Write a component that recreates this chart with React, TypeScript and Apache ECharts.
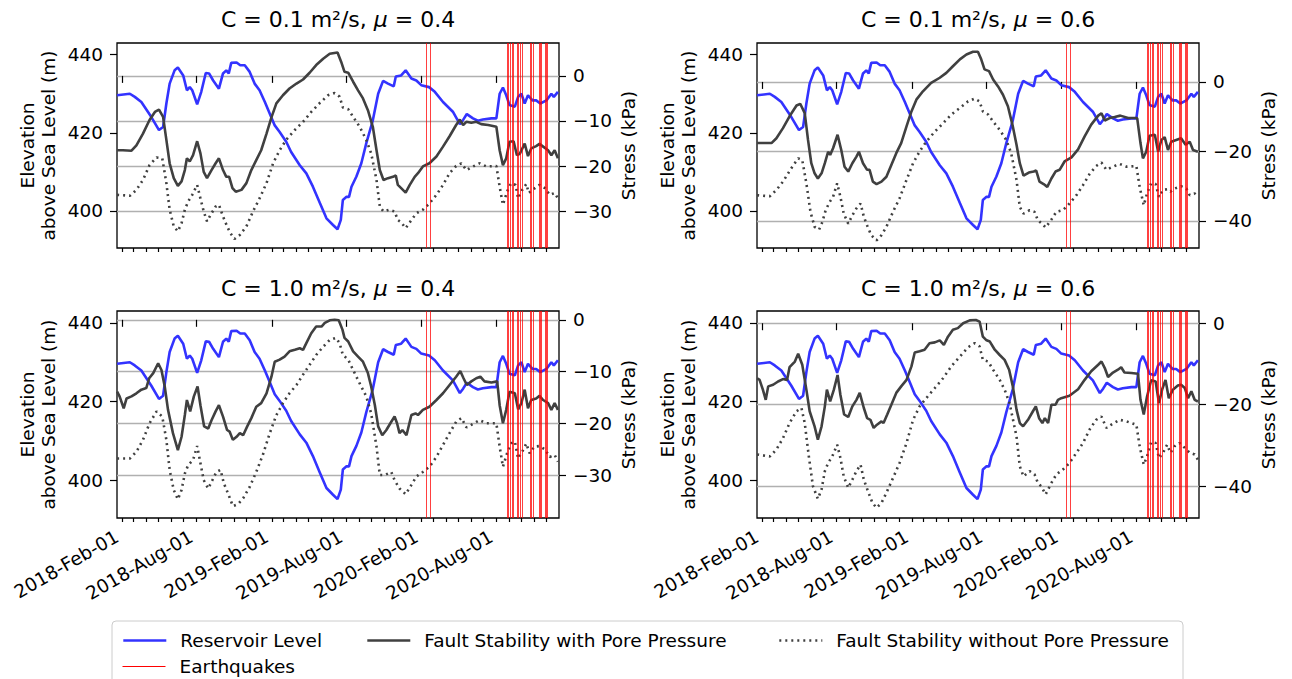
import React, { useEffect, useRef } from "react";
import * as echarts from "echarts";

const FONT = "DejaVu Sans";
const T0 = Date.UTC(2018, 1, 1); // series x values are days since 2018-02-01
const DAY_MS = 86400000;
const toTime = (day: number) => T0 + day * DAY_MS;
const parseDate = (s: string) => Date.parse(s + "T00:00:00Z");

const panelTitles = [
  "C = 0.1 m²/s, {i|μ} = 0.4",
  "C = 0.1 m²/s, {i|μ} = 0.6",
  "C = 1.0 m²/s, {i|μ} = 0.4",
  "C = 1.0 m²/s, {i|μ} = 0.6",
];

const xStartDay = -12.3;
const xEndDay = 1064.6;
const majorTickDates = ["2018-02-01", "2018-08-01", "2019-02-01", "2019-08-01", "2020-02-01", "2020-08-01"];
const elevationTicks = [400, 420, 440];
const elevationRange = [390.5, 443];
const stressMin = [-38.2, -47.8, -38.3, -47.8];
const stressMax = [7.3, 11.2, 1.7, 3.0];
const stressTicks = [
  [-30, -20, -10, 0],
  [-40, -20, 0],
  [-30, -20, -10, 0],
  [-40, -20, 0],
];

const earthquakeDates = [
  "2020-02-12", "2020-02-22", "2020-08-28", "2020-08-31", "2020-09-03", "2020-09-08", "2020-09-12",
  "2020-09-20", "2020-09-23", "2020-09-27", "2020-10-02", "2020-10-23", "2020-10-26", "2020-10-29",
  "2020-11-13", "2020-11-16", "2020-11-19", "2020-11-27", "2020-12-01", "2020-12-04",
];

// [day, elevation m]
const reservoirLevel = [
  [-12,429.6],[19,430.0],[31,429.2],[47,427.9],[71,424.1],[90,420.7],[100,421.5],[108,427.5],[116,432.6],[128,436.0],[136,436.7],[149,434.7],[158,430.9],[165,431.7],[171,430.9],[183,427.3],[193,430.5],[204,435.3],[212,435.2],[222,433.4],[236,431.3],[246,435.2],[254,436.0],[260,435.2],[266,437.9],[279,438.0],[288,437.3],[299,437.3],[311,435.6],[323,432.6],[335,430.9],[348,427.9],[360,424.9],[372,421.9],[384,420.2],[400,417.7],[412,415.1],[433,411.7],[449,409.6],[465,406.2],[482,402.0],[498,398.1],[514,396.4],[525,395.3],[533,397.7],[538,402.8],[547,403.6],[553,403.6],[559,406.2],[571,408.8],[583,412.2],[595,417.3],[611,423.2],[624,430.0],[636,433.3],[648,432.6],[662,431.9],[667,434.4],[680,434.7],[691,436.0],[705,433.9],[717,433.4],[729,432.2],[748,431.7],[762,430.5],[782,427.9],[806,425.4],[823,422.2],[831,423.3],[840,424.8],[855,423.7],[867,423.1],[879,423.4],[900,423.7],[912,423.7],[920,430.0],[928,431.6],[936,429.6],[944,427.1],[957,426.7],[965,429.2],[973,430.0],[981,427.5],[989,429.6],[1000,428.3],[1009,428.3],[1019,427.5],[1034,428.3],[1046,430.0],[1052,429.2],[1062,430.5],
];

// [day, stress kPa]
const withPore_C01_mu04 = [
  [-12,-16.5],[2,-16.5],[23,-16.6],[35,-15.4],[51,-12.8],[67,-9.8],[80,-8.0],[90,-7.5],[100,-9.1],[108,-14.2],[116,-19.4],[126,-22.7],[136,-24.4],[145,-23.4],[153,-20.9],[158,-18.3],[165,-19.0],[173,-17.6],[183,-14.5],[191,-17.2],[199,-21.3],[207,-22.7],[218,-20.9],[228,-19.4],[236,-18.3],[246,-20.9],[254,-22.4],[261,-22.4],[269,-24.9],[277,-25.7],[291,-25.3],[303,-23.8],[315,-20.9],[327,-18.7],[339,-16.5],[352,-12.8],[364,-9.2],[376,-6.1],[392,-4.3],[408,-2.8],[425,-1.7],[441,-0.8],[457,0.7],[473,2.4],[490,3.8],[506,4.9],[525,5.2],[534,3.1],[542,0.9],[551,0.7],[563,-1.3],[575,-3.2],[587,-5.0],[599,-7.6],[611,-11.3],[620,-16.5],[628,-20.9],[637,-23.1],[648,-22.7],[660,-22.4],[667,-22.1],[672,-24.2],[680,-24.9],[691,-25.9],[701,-24.2],[713,-22.4],[721,-21.6],[733,-20.1],[749,-19.4],[766,-17.9],[782,-15.7],[798,-13.4],[814,-10.9],[823,-9.7],[831,-10.9],[839,-10.2],[851,-10.4],[863,-10.2],[875,-10.7],[892,-10.9],[912,-11.3],[920,-16.5],[928,-19.8],[936,-18.3],[944,-14.6],[954,-14.5],[962,-17.6],[969,-17.3],[981,-15.0],[989,-17.8],[997,-16.1],[1009,-15.6],[1017,-15.1],[1026,-15.7],[1038,-16.5],[1046,-17.6],[1054,-16.5],[1062,-18.3],
];
const withoutPore_C01_mu04 = [
  [-12,-26.4],[19,-26.6],[35,-25.3],[51,-23.1],[67,-19.8],[84,-18.1],[98,-18.3],[108,-23.8],[116,-29.7],[126,-33.4],[136,-34.5],[145,-32.7],[153,-29.7],[161,-27.9],[171,-26.4],[183,-24.2],[191,-27.2],[199,-30.1],[207,-32.3],[218,-30.5],[228,-29.0],[236,-28.6],[246,-31.2],[256,-33.4],[264,-34.9],[274,-36.2],[287,-35.3],[303,-33.4],[319,-30.1],[335,-27.2],[352,-23.8],[368,-19.4],[384,-16.5],[400,-14.2],[421,-12.0],[441,-10.2],[461,-8.0],[482,-6.0],[502,-4.3],[518,-3.8],[530,-4.6],[538,-7.0],[551,-7.4],[563,-9.1],[579,-11.3],[595,-14.2],[607,-17.2],[620,-23.1],[628,-29.0],[637,-30.1],[652,-29.7],[664,-30.1],[672,-32.0],[680,-32.5],[691,-33.8],[705,-32.0],[717,-30.5],[733,-29.7],[749,-28.3],[766,-26.4],[782,-24.2],[798,-21.6],[814,-20.0],[827,-19.4],[839,-20.9],[851,-20.3],[871,-19.4],[888,-20.1],[912,-20.0],[920,-24.6],[928,-28.6],[938,-25.7],[948,-23.8],[959,-24.2],[965,-27.2],[975,-25.3],[985,-24.0],[991,-26.0],[1003,-25.1],[1017,-24.2],[1030,-24.9],[1042,-26.4],[1054,-26.0],[1062,-27.2],
];
const withPore_C01_mu06 = [
  [-12,-17.6],[2,-17.6],[23,-17.6],[35,-16.2],[51,-13.3],[67,-9.9],[84,-6.8],[93,-6.3],[104,-9.0],[112,-16.7],[120,-23.4],[128,-26.3],[136,-27.8],[145,-26.3],[153,-23.4],[161,-20.1],[166,-21.0],[173,-19.1],[184,-15.2],[193,-19.6],[201,-24.4],[210,-25.8],[220,-23.4],[230,-21.5],[236,-20.1],[246,-23.4],[256,-25.3],[262,-25.3],[270,-28.7],[279,-29.4],[291,-28.7],[303,-27.3],[315,-23.9],[327,-20.5],[339,-17.6],[352,-12.8],[364,-8.5],[376,-5.1],[392,-2.7],[412,-0.3],[433,1.2],[449,2.6],[465,4.5],[482,6.5],[498,7.9],[514,8.7],[526,8.7],[534,6.5],[542,3.6],[553,3.1],[563,0.7],[575,-1.3],[587,-3.7],[599,-7.0],[611,-12.8],[620,-18.1],[628,-23.4],[637,-27.0],[650,-26.1],[662,-25.8],[668,-25.5],[676,-28.7],[686,-29.4],[695,-30.2],[705,-27.8],[715,-25.8],[725,-25.3],[737,-22.9],[754,-21.7],[770,-19.4],[786,-15.7],[802,-12.3],[819,-9.7],[827,-9.0],[835,-11.1],[847,-10.4],[859,-10.1],[873,-9.7],[892,-10.4],[914,-10.4],[922,-17.6],[928,-22.0],[936,-20.1],[944,-15.5],[957,-15.2],[965,-20.1],[973,-16.7],[981,-15.9],[989,-19.6],[997,-17.2],[1009,-16.7],[1021,-16.2],[1032,-18.1],[1042,-17.2],[1050,-19.6],[1062,-20.1],
];
const withoutPore_C01_mu06 = [
  [-12,-32.6],[19,-32.9],[35,-31.1],[51,-28.7],[71,-24.9],[88,-22.0],[98,-22.5],[108,-29.2],[118,-37.4],[128,-41.7],[139,-42.5],[147,-40.3],[155,-36.9],[165,-34.5],[173,-33.1],[183,-29.2],[191,-33.1],[199,-37.9],[210,-40.8],[220,-38.4],[230,-36.4],[240,-35.0],[248,-38.8],[256,-41.3],[266,-44.1],[279,-45.6],[291,-44.1],[303,-41.7],[319,-37.4],[335,-33.5],[352,-28.2],[368,-23.4],[384,-20.0],[400,-17.2],[421,-14.3],[441,-11.9],[461,-9.4],[482,-7.5],[502,-5.6],[518,-4.8],[530,-5.6],[538,-8.5],[551,-9.4],[563,-11.4],[579,-13.8],[595,-16.7],[607,-20.5],[620,-28.2],[628,-36.0],[637,-37.9],[652,-36.9],[664,-37.4],[672,-39.8],[680,-40.6],[691,-41.9],[705,-39.6],[717,-37.4],[733,-36.9],[749,-35.0],[766,-32.6],[782,-29.7],[798,-26.5],[814,-24.2],[827,-23.2],[839,-25.3],[851,-24.6],[871,-23.6],[888,-24.4],[912,-24.2],[920,-30.2],[930,-35.5],[938,-32.1],[948,-29.2],[959,-29.4],[967,-33.1],[977,-31.1],[987,-30.9],[995,-31.6],[1005,-30.7],[1021,-30.0],[1034,-30.7],[1042,-32.6],[1054,-32.1],[1062,-33.1],
];
const withPore_C10_mu04 = [
  [-12,-13.9],[-6,-14.8],[4,-17.1],[11,-15.2],[23,-14.8],[35,-14.2],[47,-13.5],[59,-13.2],[66,-11.3],[76,-10.3],[88,-8.4],[96,-9.7],[104,-12.9],[112,-17.4],[124,-21.9],[136,-25.2],[145,-22.6],[153,-18.4],[158,-15.5],[166,-17.7],[175,-14.8],[184,-12.9],[191,-16.5],[200,-20.6],[210,-21.0],[218,-19.4],[228,-17.7],[236,-16.5],[246,-18.7],[256,-21.3],[262,-21.6],[270,-23.2],[279,-22.6],[287,-21.9],[295,-22.3],[305,-20.6],[315,-19.0],[327,-16.8],[339,-16.1],[352,-14.2],[364,-11.0],[372,-8.1],[384,-7.7],[396,-7.1],[408,-6.1],[421,-5.8],[433,-5.5],[441,-5.8],[449,-4.5],[461,-2.6],[473,-1.3],[486,-1.3],[494,-0.6],[506,-0.1],[518,0],[528,-0.1],[537,-1.9],[542,-3.5],[551,-4.2],[563,-6.1],[575,-7.1],[587,-8.1],[599,-10.3],[607,-12.9],[616,-16.5],[624,-20.6],[634,-22.3],[644,-21.3],[656,-19.7],[664,-18.7],[670,-20.0],[676,-21.9],[683,-21.3],[693,-22.3],[705,-18.4],[715,-18.1],[721,-18.4],[733,-17.4],[749,-16.8],[766,-15.5],[782,-14.2],[798,-12.6],[814,-11.0],[824,-9.9],[832,-11.3],[840,-12.6],[851,-11.9],[863,-11.3],[873,-11.0],[883,-11.9],[900,-12.1],[914,-11.9],[920,-16.5],[928,-20.0],[936,-17.4],[944,-13.9],[957,-14.2],[965,-17.3],[973,-16.1],[981,-13.5],[989,-17.1],[997,-15.5],[1009,-15.2],[1017,-14.7],[1026,-15.5],[1038,-16.1],[1046,-17.4],[1054,-16.1],[1062,-17.4],
];
const withoutPore_C10_mu04 = [
  [-12,-26.8],[19,-26.8],[35,-25.5],[51,-23.2],[67,-20.0],[84,-17.7],[98,-18.7],[108,-23.2],[116,-29.0],[126,-32.9],[136,-34.7],[145,-32.9],[153,-29.7],[161,-28.1],[173,-27.1],[183,-24.4],[191,-27.7],[199,-31.0],[210,-32.6],[220,-31.0],[230,-29.4],[240,-29.0],[248,-31.6],[258,-33.5],[270,-36.0],[283,-35.6],[295,-34.5],[311,-32.3],[327,-29.4],[343,-26.1],[360,-21.9],[376,-18.4],[392,-16.1],[408,-14.2],[425,-12.6],[441,-10.6],[457,-8.7],[473,-6.8],[490,-5.2],[506,-3.9],[521,-3.5],[530,-4.5],[538,-6.8],[551,-7.7],[563,-9.7],[579,-12.3],[595,-14.8],[607,-18.1],[620,-24.5],[628,-30.0],[640,-30.0],[656,-29.4],[664,-31.0],[676,-32.6],[691,-33.7],[705,-31.9],[717,-30.3],[733,-29.4],[749,-28.4],[766,-26.5],[782,-24.2],[798,-21.9],[814,-19.7],[827,-19.0],[839,-20.8],[851,-20.3],[871,-19.4],[888,-20.0],[912,-20.0],[920,-24.5],[928,-28.4],[938,-25.8],[948,-23.9],[957,-23.5],[965,-26.8],[975,-25.5],[985,-23.9],[993,-25.8],[1005,-24.5],[1017,-24.4],[1030,-25.0],[1042,-26.5],[1054,-26.1],[1062,-27.4],
];
const withPore_C10_mu06 = [
  [-12,-13.5],[-6,-13.9],[2,-16.3],[9,-18.8],[15,-15.5],[27,-15.1],[39,-14.3],[51,-13.7],[61,-13.9],[67,-10.8],[80,-9.4],[88,-7.5],[98,-10.2],[108,-16.3],[116,-21.6],[128,-25.3],[136,-28.6],[145,-25.3],[153,-20.4],[158,-16.3],[166,-19.2],[175,-16.3],[184,-12.7],[191,-17.6],[200,-22.4],[210,-23.0],[220,-20.4],[230,-18.8],[238,-17.1],[248,-20.8],[256,-23.3],[264,-23.7],[272,-25.7],[280,-24.9],[291,-24.1],[296,-24.5],[305,-22.4],[315,-20.0],[327,-17.1],[339,-15.5],[352,-13.9],[364,-10.6],[372,-7.2],[384,-6.9],[396,-6.5],[408,-4.9],[421,-4.7],[433,-4.2],[443,-5.3],[453,-3.3],[465,-1.6],[477,-1.2],[490,0],[506,0.7],[521,0.8],[530,0.4],[538,-3.3],[547,-4.2],[555,-4.5],[567,-6.5],[579,-7.8],[591,-9.0],[602,-11.4],[611,-15.5],[620,-21.2],[628,-24.5],[636,-25.3],[648,-23.7],[660,-21.6],[667,-20.4],[675,-23.3],[683,-24.5],[689,-23.3],[697,-24.5],[705,-20.0],[715,-20.0],[721,-18.8],[729,-18.4],[749,-17.8],[770,-16.2],[786,-13.9],[802,-11.8],[819,-10.2],[827,-9.4],[835,-11.0],[843,-13.2],[855,-12.1],[867,-11.4],[875,-10.8],[883,-12.1],[900,-12.2],[916,-12.4],[922,-18.8],[930,-22.4],[938,-18.0],[948,-14.0],[959,-14.3],[967,-19.6],[975,-16.2],[983,-13.9],[991,-18.4],[1001,-16.3],[1013,-15.3],[1021,-15.1],[1030,-15.9],[1038,-18.4],[1046,-16.7],[1054,-18.8],[1062,-19.2],
];
const withoutPore_C10_mu06 = [
  [-12,-32.2],[19,-32.7],[35,-31.0],[51,-28.2],[67,-24.5],[84,-21.6],[96,-20.8],[104,-24.5],[114,-32.7],[124,-40.0],[136,-43.1],[145,-40.8],[153,-36.3],[161,-34.3],[171,-32.7],[183,-29.8],[191,-33.1],[199,-37.6],[210,-40.4],[220,-38.4],[230,-36.3],[240,-34.7],[248,-38.4],[258,-41.2],[269,-44.1],[279,-45.3],[291,-44.1],[303,-41.6],[319,-38.0],[335,-34.3],[352,-29.4],[368,-23.7],[384,-20.4],[400,-18.4],[421,-15.9],[441,-13.5],[461,-10.6],[482,-8.2],[502,-5.9],[518,-4.9],[530,-5.7],[538,-9.0],[551,-9.4],[563,-11.4],[579,-13.9],[591,-16.3],[603,-19.6],[620,-27.8],[628,-35.1],[637,-37.6],[652,-36.3],[664,-37.1],[672,-39.2],[680,-40.0],[691,-42.0],[705,-39.2],[717,-37.1],[733,-35.9],[749,-34.3],[766,-31.8],[782,-29.4],[798,-26.1],[814,-23.7],[827,-22.9],[839,-25.7],[851,-24.9],[871,-23.7],[888,-24.1],[912,-24.9],[920,-30.2],[930,-34.7],[938,-32.7],[948,-29.2],[959,-29.4],[967,-33.1],[977,-31.8],[987,-29.8],[995,-31.8],[1005,-30.2],[1017,-29.4],[1030,-30.6],[1042,-31.8],[1054,-32.2],[1062,-33.5],
];

const withPoreSeries = [withPore_C01_mu04, withPore_C01_mu06, withPore_C10_mu04, withPore_C10_mu06];
const withoutPoreSeries = [withoutPore_C01_mu04, withoutPore_C01_mu06, withoutPore_C10_mu04, withoutPore_C10_mu06];

const MONTHS = ["Jan", "Feb", "Mar", "Apr", "May", "Jun", "Jul", "Aug", "Sep", "Oct", "Nov", "Dec"];
const fmtDate = (v: number) => {
  const d = new Date(v);
  return `${d.getUTCFullYear()}-${MONTHS[d.getUTCMonth()]}-${String(d.getUTCDate()).padStart(2, "0")}`;
};
const fmtStress = (v: number) => (v < 0 ? "\u2212" + Math.abs(v) : String(v));

const BLUE = "#3333ff";
const DARK = "#404040";
const RED = "#ff0000";

export default function App() {
  const ref = useRef<HTMLDivElement>(null);

  useEffect(() => {
    if (!ref.current) return;
    const chart = echarts.init(ref.current, undefined, { renderer: "svg" });

    const xMin = toTime(xStartDay);
    const xMax = toTime(xEndDay);
    const majorTicks = majorTickDates.map(parseDate);
    const minorTicks: number[] = [];
    for (let y = 2018; y <= 2021; y++) {
      for (let m = 0; m < 12; m++) {
        const t = Date.UTC(y, m, 1);
        if (t >= xMin && t <= xMax) minorTicks.push(t);
      }
    }
    const quakeTimes = earthquakeDates.map(parseDate);

    const grids = [
      { left: 117, top: 43, width: 442, height: 205 },
      { left: 757, top: 43, width: 442, height: 205 },
      { left: 117, top: 311, width: 442, height: 207 },
      { left: 757, top: 311, width: 442, height: 207 },
    ];

    const tickLine = { color: "#000", width: 1.2 };
    const labelBase = { color: "#000", fontFamily: FONT, fontSize: 18.5 };

    const xAxis: any[] = [];
    const yAxis: any[] = [];
    const series: any[] = [];

    grids.forEach((_, g) => {
      xAxis.push({
        type: "value",
        gridIndex: g,
        min: xMin,
        max: xMax,
        position: "bottom",
        axisLine: { show: false },
        splitLine: { show: false },
        axisTick: { show: true, length: 7, lineStyle: tickLine, customValues: majorTicks },
        axisLabel: {
          show: g >= 2,
          customValues: majorTicks,
          formatter: (v: number) => fmtDate(v),
          rotate: 30,
          margin: 14,
          padding: [0, 6, 0, 0],
          hideOverlap: false,
          ...labelBase,
        },
      });
      xAxis.push({
        type: "value",
        gridIndex: g,
        min: xMin,
        max: xMax,
        position: "bottom",
        axisLine: { show: false },
        splitLine: { show: false },
        axisTick: { show: true, length: 4, lineStyle: tickLine, customValues: minorTicks },
        axisLabel: { show: false },
      });

      yAxis.push({
        type: "value",
        gridIndex: g,
        position: "left",
        min: elevationRange[0],
        max: elevationRange[1],
        axisLine: { show: false },
        splitLine: { show: false },
        axisTick: { show: true, length: 7, lineStyle: tickLine, customValues: elevationTicks },
        axisLabel: { customValues: elevationTicks, margin: 14, ...labelBase },
        name: "Elevation\nabove Sea Level (m)",
        nameLocation: "middle",
        nameRotate: 90,
        nameGap: 58,
        nameTextStyle: { ...labelBase, lineHeight: 21, align: "center" },
      });
      yAxis.push({
        type: "value",
        gridIndex: g,
        position: "right",
        min: stressMin[g],
        max: stressMax[g],
        splitNumber: stressTicks[g].length === 3 ? 3 : 4,
        axisLine: { show: false },
        splitLine: { show: true, lineStyle: { color: "#b0b0b0", width: 1.3 } },
        axisTick: { show: true, length: 7, lineStyle: tickLine, customValues: stressTicks[g] },
        axisLabel: { customValues: stressTicks[g], margin: 14, formatter: (v: number) => fmtStress(v), ...labelBase },
        name: "Stress (kPa)",
        nameLocation: "middle",
        nameRotate: 90,
        nameGap: 59,
        nameTextStyle: { ...labelBase, lineHeight: 21 },
      });

      series.push({
        type: "line",
        name: "Reservoir Level",
        xAxisIndex: 2 * g,
        yAxisIndex: 2 * g,
        data: reservoirLevel.map(([d, v]) => [toTime(d), v]),
        showSymbol: false,
        symbol: "none",
        lineStyle: { color: BLUE, width: 2.6 },
        itemStyle: { color: BLUE },
        z: 2,
      });
      series.push({
        type: "line",
        name: "Earthquakes",
        xAxisIndex: 2 * g,
        yAxisIndex: 2 * g,
        data: [],
        showSymbol: false,
        symbol: "none",
        lineStyle: { color: RED, width: 1 },
        itemStyle: { color: RED },
        z: 3,
        markLine: {
          silent: true,
          symbol: ["none", "none"],
          label: { show: false },
          lineStyle: { color: RED, width: 1, type: "solid", opacity: 0.75 },
          emphasis: { disabled: true },
          data: quakeTimes.map((t) => ({ xAxis: t })),
        },
      });
      series.push({
        type: "line",
        name: "Fault Stability with Pore Pressure",
        xAxisIndex: 2 * g,
        yAxisIndex: 2 * g + 1,
        data: withPoreSeries[g].map(([d, v]) => [toTime(d), v]),
        showSymbol: false,
        symbol: "none",
        lineStyle: { color: DARK, width: 2.6 },
        itemStyle: { color: DARK },
        z: 4,
      });
      series.push({
        type: "line",
        name: "Fault Stability without Pore Pressure",
        xAxisIndex: 2 * g,
        yAxisIndex: 2 * g + 1,
        data: withoutPoreSeries[g].map(([d, v]) => [toTime(d), v]),
        showSymbol: false,
        symbol: "none",
        lineStyle: { color: DARK, width: 2.6, type: [2, 4], cap: "butt" },
        itemStyle: { color: DARK },
        z: 4,
      });
    });

    const legendBase = {
      orient: "horizontal",
      itemWidth: 43,
      itemHeight: 20,
      selectedMode: false,
      itemStyle: { opacity: 0, borderWidth: 0 },
      textStyle: { ...labelBase, padding: [0, 0, 0, 9] },
    };

    const titleCenters = [
      [338, 19],
      [978, 19],
      [338, 288],
      [978, 288],
    ];

    chart.setOption({
      animation: false,
      grid: grids.map((r) => ({
        ...r,
        show: true,
        borderColor: "#000",
        borderWidth: 1.3,
        backgroundColor: "transparent",
        containLabel: false,
        outerBoundsMode: "none",
      })),
      xAxis,
      yAxis,
      series,
      legend: [
        { ...legendBase, data: ["Reservoir Level"], left: 117, top: 626, lineStyle: { width: 2.6, opacity: 1 } },
        { ...legendBase, data: ["Fault Stability with Pore Pressure"], left: 361, top: 626, lineStyle: { width: 2.6, opacity: 1 } },
        { ...legendBase, data: ["Fault Stability without Pore Pressure"], left: 773, top: 626, lineStyle: { width: 2.6, opacity: 1 } },
        { ...legendBase, data: ["Earthquakes"], left: 117, top: 652, lineStyle: { width: 1, opacity: 1 } },
      ],
      graphic: [
        {
          type: "rect",
          shape: { x: 112, y: 621, width: 1071, height: 72, r: 4 },
          style: { fill: "rgba(255,255,255,0.8)", stroke: "#cccccc", lineWidth: 1 },
          z: -1,
          silent: true,
        },
        ...panelTitles.map((t, i) => ({
          type: "text",
          x: titleCenters[i][0],
          y: titleCenters[i][1],
          silent: true,
          style: {
            text: t,
            fill: "#000",
            fontFamily: FONT,
            fontSize: 22,
            align: "center",
            verticalAlign: "middle",
            textAlign: "center",
            textVerticalAlign: "middle",
            rich: { i: { fontStyle: "italic", fontFamily: FONT, fontSize: 22, fill: "#000" } },
          },
        })),
      ],
    });

    return () => chart.dispose();
  }, []);

  return <div ref={ref} style={{ position: "fixed", left: 0, top: 0, width: 1292, height: 679, background: "#fff" }} />;
}
